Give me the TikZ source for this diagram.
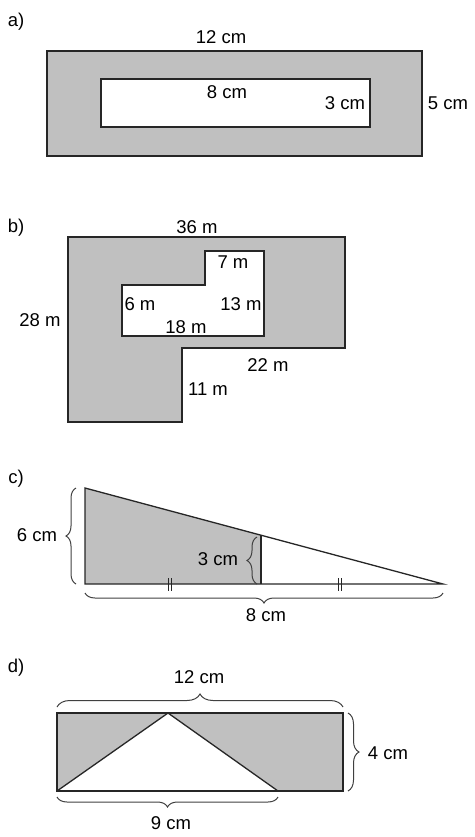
\documentclass[tikz,border=0pt]{standalone}
\usepackage{fontspec}
\setmainfont{Liberation Sans}
\usetikzlibrary{decorations.pathreplacing}
\definecolor{shadegray}{RGB}{192,192,192}

\begin{document}
\begin{tikzpicture}[x=1pt,y=-1pt]
    \tikzset{area/.style = {fill=shadegray,draw=black!85,line width=1.3pt}}
    \tikzset{hole/.style = {fill=white,draw=black!85,line width=1.3pt}}
    \tikzset{edgeline/.style = {draw=black!85,line width=1.3pt}}
    \tikzset{dim/.style = {font=\fontsize{18.5}{20}\selectfont,inner sep=0pt}}
    \tikzset{curly/.style = {decorate,decoration={brace,amplitude=#1},draw=black!75,line width=1pt}}
    \useasboundingbox (0,0) rectangle (474,837);
    % part a
    \node[dim] (la) at (16,22) {a)};
    \draw[area] (47,51) rectangle (422,156);
    \draw[hole] (101,79) rectangle (370,127);
    \node[dim] (a12) at (221,37) {12 cm};
    \node[dim] (a8) at (227,92) {8 cm};
    \node[dim] (a3) at (345,103) {3 cm};
    \node[dim] (a5) at (448,103) {5 cm};
    % part b
    \node[dim] (lb) at (16,228) {b)};
    \draw[area] (68,237) -- (345,237) -- (345,348) -- (182,348) -- (182,422) -- (68,422) -- cycle;
    \draw[hole] (122,285) -- (205,285) -- (205,251) -- (264,251) -- (264,336) -- (122,336) -- cycle;
    \node[dim] (b36) at (197,227) {36 m};
    \node[dim] (b7) at (233,262) {7 m};
    \node[dim] (b6) at (140,304) {6 m};
    \node[dim] (b13) at (241,304) {13 m};
    \node[dim] (b18) at (186,327) {18 m};
    \node[dim] (b28) at (40,320) {28 m};
    \node[dim] (b22) at (268,365) {22 m};
    \node[dim] (b11) at (208,389) {11 m};
    % part c
    \node[dim] (lc) at (16,479) {c)};
    \coordinate (ctop) at (85,488);
    \coordinate (cleft) at (85,584);
    \coordinate (cright) at (443,584);
    \coordinate (cmidtop) at (261,535);
    \coordinate (cmid) at (261,584);
    \fill[shadegray] (ctop) -- (cmidtop) -- (cmid) -- (cleft) -- cycle;
    \draw[edgeline,line join=miter] (ctop) -- (cright) -- (cleft) -- cycle;
    \draw[edgeline] (cmidtop) -- (cmid);
    \foreach \x in {168.5,171.5,338.7,341.5}
        \draw[black!85,line width=0.9pt] (\x,578) -- (\x,591);
    \draw[curly=10] (76,584) -- (76,488);
    \draw[curly=10] (257,584) -- (257,537);
    \draw[curly=10] (443,593) -- (85,593);
    \node[dim] (c6) at (37,535) {6 cm};
    \node[dim] (c3) at (218,559) {3 cm};
    \node[dim] (c8) at (266,615) {8 cm};
    % part d
    \node[dim] (ld) at (16,668) {d)};
    \coordinate (dtl) at (57,713);
    \coordinate (dtr) at (343,713);
    \coordinate (dbr) at (343,791);
    \coordinate (dbl) at (57,791);
    \coordinate (dapex) at (168,713);
    \coordinate (dfoot) at (278,791);
    \fill[shadegray] (dtl) rectangle (dbr);
    \fill[white] (dbl) -- (dapex) -- (dfoot) -- cycle;
    \draw[edgeline] (dtl) rectangle (dbr);
    \draw[edgeline] (dbl) -- (dapex) -- (dfoot);
    \draw[curly=13] (57,707) -- (343,707);
    \draw[curly=11] (348,713) -- (348,791);
    \draw[curly=10] (278,797) -- (57,797);
    \node[dim] (d12) at (199,677) {12 cm};
    \node[dim] (d4) at (388,753) {4 cm};
    \node[dim] (d9) at (171,823) {9 cm};
\end{tikzpicture}
\end{document}
